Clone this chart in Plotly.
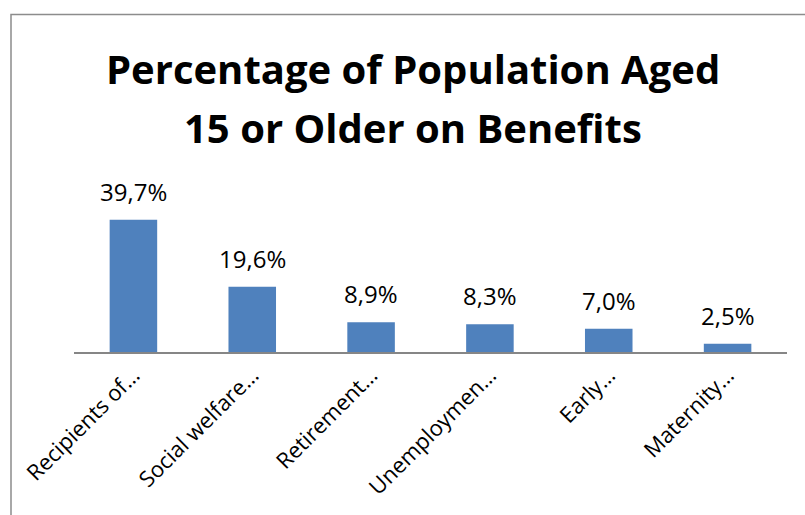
import plotly.graph_objects as go

categories = ["Recipients of…", "Social welfare…", "Retirement…", "Unemploymen…", "Early…", "Maternity…"]
values = [39.7, 19.6, 8.9, 8.3, 7.0, 2.5]
title_lines = ["Percentage of Population Aged", "15 or Older on Benefits"]

W, H = 805, 515
L, R, T, B = 74, 18, 202, 163
pw, ph = W - L - R, H - T - B

def px_x(x):
    return (x - L) / pw

def px_y(y):
    return (H - B - y) / ph

fig = go.Figure(go.Bar(
    x=categories, y=values,
    marker=dict(color="#4F81BD", line=dict(width=0)),
    cliponaxis=False,
))

annotations = []
for c, v in zip(categories, values):
    annotations.append(dict(
        x=c, y=v, xref="x", yref="y", text=f"{v:.1f}%".replace(".", ","),
        showarrow=False, yanchor="bottom", xanchor="center", yshift=10,
        font=dict(family="Open Sans", size=24, color="#000000"),
    ))
for i, (line, ypx) in enumerate(zip(title_lines, [68, 128])):
    annotations.append(dict(
        x=px_x(413), y=px_y(ypx), xref="paper", yref="paper",
        text=f"<b>{line}</b>", showarrow=False, xanchor="center", yanchor="middle",
        font=dict(family="Open Sans", size=40, color="#000000"),
    ))

fig.update_layout(
    width=W, height=H,
    margin=dict(l=L, r=R, t=T, b=B),
    paper_bgcolor="white", plot_bgcolor="white",
    separators=",.",
    bargap=0.6,
    showlegend=False,
    xaxis=dict(
        showline=True, linecolor="#868686", linewidth=1.5,
        ticks="", tickangle=-45,
        tickfont=dict(family="Open Sans", size=22, color="#000000"),
        showgrid=False,
    ),
    yaxis=dict(range=[0, 45], visible=False, showgrid=False, zeroline=False),
    annotations=annotations,
    shapes=[dict(
        type="rect", xref="paper", yref="paper",
        x0=px_x(11), x1=px_x(815), y0=px_y(525), y1=px_y(14.5),
        line=dict(color="#8c8c8c", width=1.5), fillcolor="rgba(0,0,0,0)", layer="below",
    )],
)

fig.write_html("out.html")
